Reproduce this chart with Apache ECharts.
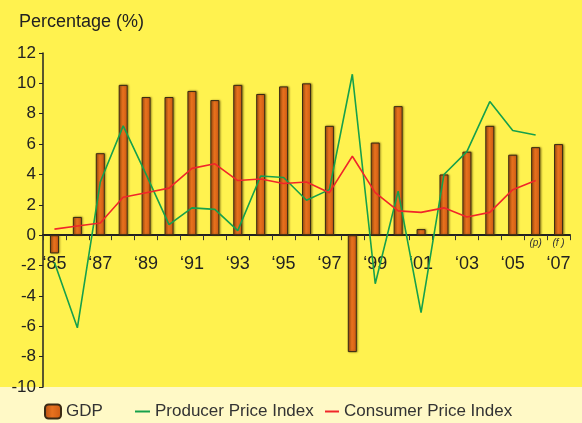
<!DOCTYPE html>
<html>
<head>
<meta charset="utf-8">
<script src="https://cdn.jsdelivr.net/npm/echarts@6/dist/echarts.min.js"></script>
<style>
html, body { margin: 0; padding: 0; background: #fff24f; }
#main { width: 582px; height: 423px; }
</style>
</head>
<body>
<div id="main"></div>
<script>
// data
var years = ['1985','1986','1987','1988','1989','1990','1991','1992','1993','1994','1995','1996',
             '1997','1998','1999','2000','2001','2002','2003','2004','2005','2006','2007'];
var yearLabels = ['‘85','','‘87','','‘89','','‘91','','‘93','','‘95','',
                  '‘97','','‘99','','‘01','','‘03','','‘05','','‘07'];
var notes = ['','','','','','','','','','','','','','','','','','','','','','(p)','(f )'];
var gdp = [-1.2, 1.2, 5.4, 9.9, 9.1, 9.1, 9.5, 8.9, 9.9, 9.3, 9.8, 10.0,
           7.2, -7.7, 6.1, 8.5, 0.4, 4.0, 5.5, 7.2, 5.3, 5.8, 6.0];
var ppi = [-1.8, -6.1, 3.5, 7.2, 4.0, 0.7, 1.8, 1.7, 0.3, 3.9, 3.8, 2.3,
           3.0, 10.6, -3.2, 2.9, -5.1, 4.0, 5.5, 8.8, 6.9, 6.6, null];
var cpi = [0.4, 0.6, 0.8, 2.5, 2.8, 3.1, 4.4, 4.7, 3.6, 3.7, 3.4, 3.5,
           2.8, 5.2, 2.8, 1.6, 1.5, 1.8, 1.2, 1.5, 3.0, 3.6, null];

var yMin = -10, yMax = 12;
var font = 'Liberation Sans, Arial, sans-serif';
var gridTop = 53, gridBottom = 36, chartH = 423;
// move the category axis (line + labels) up to the zero line
var zeroOffset = -(chartH - gridTop - gridBottom) * (0 - yMin) / (yMax - yMin);

var chart = echarts.init(document.getElementById('main'));

var barColor = new echarts.graphic.LinearGradient(0, 0, 1, 0, [
    { offset: 0, color: '#b04c10' },
    { offset: 0.45, color: '#e8721e' },
    { offset: 1, color: '#cc5a12' }
]);

var legendText = { fontSize: 17, color: '#333', fontFamily: font };

chart.setOption({
    backgroundColor: '#fff24f',
    animation: false,
    textStyle: { fontFamily: font },
    graphic: [{
        type: 'rect',
        left: 0, bottom: 0,
        shape: { width: 582, height: 36 },
        style: { fill: '#fff9c6' },
        z: -10
    }],
    title: {
        text: 'Percentage (%)',
        left: 14, top: 8,
        textStyle: { fontSize: 18, fontWeight: 'normal', color: '#222', fontFamily: font }
    },
    legend: [{
        data: ['GDP'],
        left: 44, top: 403, padding: 0,
        itemWidth: 16, itemHeight: 14,
        textStyle: legendText
    }, {
        data: ['Producer Price Index'],
        icon: 'rect',
        left: 135, top: 403, padding: 0,
        itemWidth: 15, itemHeight: 2,
        textStyle: legendText
    }, {
        data: ['Consumer Price Index'],
        icon: 'rect',
        left: 325, top: 403, padding: 0,
        itemWidth: 14, itemHeight: 2,
        textStyle: legendText
    }],
    grid: { left: 43, right: 12, top: gridTop, bottom: gridBottom, containLabel: false },
    xAxis: {
        type: 'category',
        data: years,
        offset: zeroOffset,
        axisLine: { onZero: false, lineStyle: { color: '#222', width: 2 } },
        axisTick: { show: true, inside: false, length: 5, interval: 0,
                    lineStyle: { color: '#333', width: 1 } },
        axisLabel: {
            interval: 0,
            margin: 2,
            formatter: function (v, i) {
                return '{s|' + (notes[i] || ' ') + '}\n{y|' + (yearLabels[i] || ' ') + '}';
            },
            rich: {
                s: { fontSize: 10, fontStyle: 'italic', color: '#333', lineHeight: 12, fontFamily: font },
                y: { fontSize: 18, color: '#222', lineHeight: 30, fontFamily: font }
            }
        }
    },
    yAxis: {
        type: 'value',
        min: yMin, max: yMax, interval: 2,
        splitLine: { show: false },
        axisLine: { show: true, lineStyle: { color: '#222', width: 1.5 } },
        axisTick: { show: true, length: 4, lineStyle: { color: '#222' } },
        axisLabel: { fontSize: 17, color: '#222', margin: 7, fontFamily: font }
    },
    series: [{
        name: 'GDP',
        type: 'bar',
        data: gdp,
        barWidth: 9,
        itemStyle: {
            color: barColor,
            borderColor: '#3a2a14',
            borderWidth: 1,
            shadowColor: 'rgba(90,70,0,0.55)',
            shadowBlur: 2,
            shadowOffsetX: 1
        }
    }, {
        name: 'Producer Price Index',
        type: 'line',
        data: ppi,
        symbol: 'none',
        color: '#16a04c',
        lineStyle: { width: 1.6, color: '#16a04c' }
    }, {
        name: 'Consumer Price Index',
        type: 'line',
        data: cpi,
        symbol: 'none',
        color: '#f0262a',
        lineStyle: { width: 1.6, color: '#f0262a' }
    }]
});
</script>
</body>
</html>
